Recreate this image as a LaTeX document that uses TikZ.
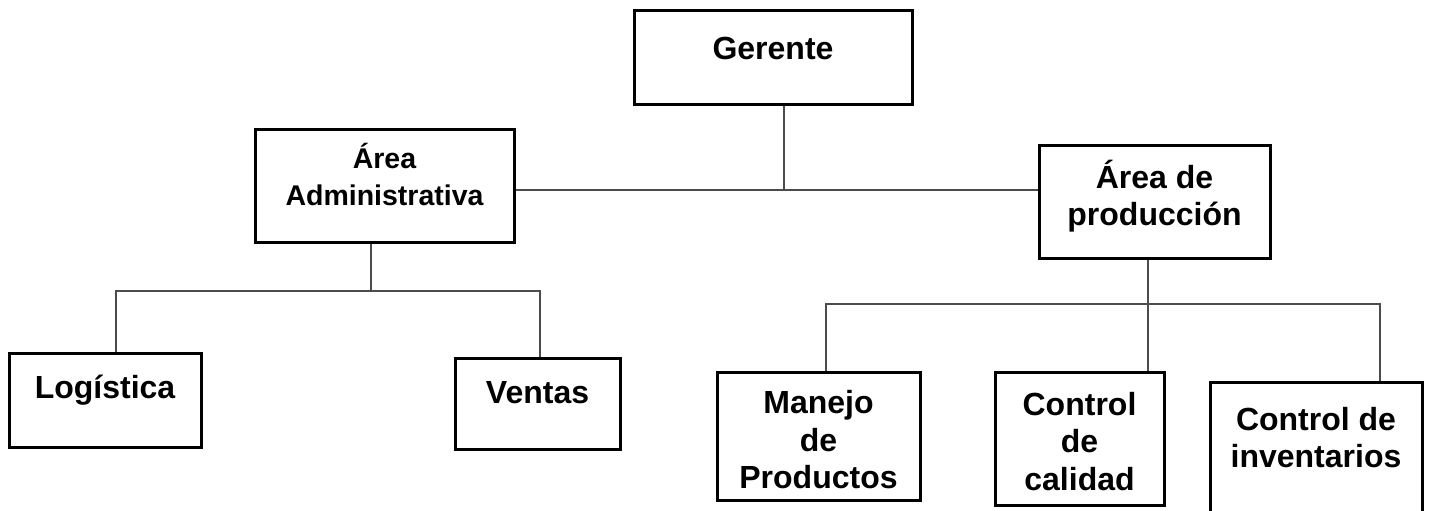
\documentclass[tikz,border=0pt]{standalone}
\usepackage{fontspec}
\setmainfont{Liberation Sans}
\tikzset{
  caja/.style={draw=black, line width=1.5pt, rectangle, inner sep=0pt},
  texto/.style={align=center, inner sep=0pt, font=\bfseries\fontsize{16pt}{18.75pt}\selectfont},
  linea/.style={draw=black!70, line width=0.9pt}
}
\begin{document}
\begin{tikzpicture}[x=0.5pt, y=-0.5pt]
  \useasboundingbox (0,0) rectangle (1429,510);
  % cajas
  \node[caja, minimum width=139pt, minimum height=47pt] (gerente) at (773,57) {};
  \node[caja, minimum width=129.5pt, minimum height=56.5pt] (admin) at (384.5,185.5) {};
  \node[caja, minimum width=115.5pt, minimum height=56.5pt] (produccion) at (1154.5,201.5) {};
  \node[caja, minimum width=96pt, minimum height=47pt] (logistica) at (105,400) {};
  \node[caja, minimum width=82.5pt, minimum height=45.5pt] (ventas) at (537.5,403.5) {};
  \node[caja, minimum width=101.5pt, minimum height=64pt] (manejo) at (818.5,436) {};
  \node[caja, minimum width=84.5pt, minimum height=66.5pt] (calidad) at (1079.5,438.5) {};
  \node[caja, minimum width=106pt, minimum height=74pt] (inventarios) at (1316,456) {};
  % textos
  \node[texto] (t-gerente) at (773,48) {Gerente};
  \node[texto, font=\bfseries\fontsize{14.25pt}{18.5pt}\selectfont] (t-admin) at (384.5,175) {Área\\Administrativa};
  \node[texto] (t-produccion) at (1154.5,196) {Área de\\producción};
  \node[texto] (t-logistica) at (105,390) {Logística};
  \node[texto] (t-ventas) at (537.5,393) {Ventas};
  \node[texto] (t-manejo) at (818.5,440) {Manejo\\de\\Productos};
  \node[texto] (t-calidad) at (1079.5,441.5) {Control\\de\\calidad};
  \node[texto] (t-inventarios) at (1316,437.5) {Control de\\inventarios};
  % uniones
  \coordinate (b1) at (784,190);
  \coordinate (b2) at (371,291);
  \coordinate (b2l) at (116,291);
  \coordinate (b2r) at (540,291);
  \coordinate (b3) at (1148,304);
  \coordinate (b3l) at (826,304);
  \coordinate (b3r) at (1380,304);
  \draw[linea] (gerente.south -| b1) -- (b1);
  \draw[linea] (admin.east |- b1) -- (produccion.west |- b1);
  \draw[linea] (admin.south -| b2) -- (b2);
  \draw[linea] (logistica.north -| b2l) -- (b2l) -- (b2r) -- (ventas.north -| b2r);
  \draw[linea] (produccion.south -| b3) -- (calidad.north -| b3);
  \draw[linea] (manejo.north -| b3l) -- (b3l) -- (b3r) -- (inventarios.north -| b3r);
\end{tikzpicture}
\end{document}
